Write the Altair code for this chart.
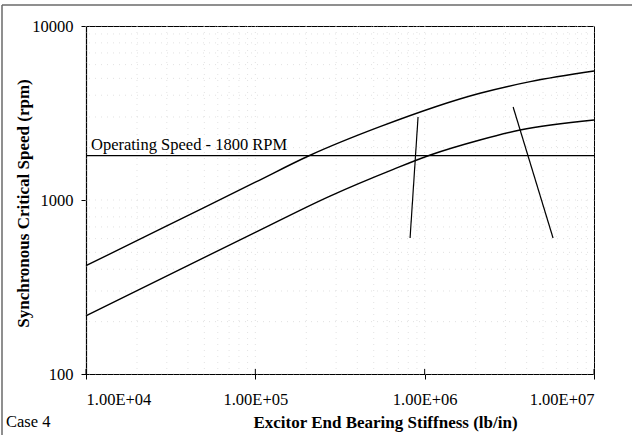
import altair as alt
import pandas as pd

# Synchronous critical speed vs. excitor end bearing stiffness (log-log)
upper_k = [1e4, 3e4, 1e5, 2.06e5, 5.45e5, 2.12e6, 4.2e6, 1e7]
upper_rpm = [419, 710, 1265, 1790, 2638, 4105, 4786, 5510]

lower_k = [1e4, 1e5, 2.76e5, 6.53e5, 1.08e6, 2.12e6, 3.66e6, 1e7]
lower_rpm = [216, 652, 1054, 1501, 1814, 2213, 2525, 2884]

operating_speed = 1800

# leader lines (start/end in data units)
leader_k1 = [9.14e5, 3.33e6]
leader_rpm1 = [3000, 3424]
leader_k2 = [8.2e5, 5.73e6]
leader_rpm2 = [605, 605]

x_major = [1e4, 1e5, 1e6, 1e7]
y_major = [100, 1000, 10000]
x_grid = [m * 10 ** e for e in (4, 5, 6) for m in range(1, 10)] + [1e7]
y_grid = [m * 10 ** e for e in (2, 3) for m in range(1, 10)] + [1e4]

FONT = "Liberation Serif"
W, H = 508, 348

curves = pd.DataFrame(
    {"k": upper_k + lower_k,
     "rpm": upper_rpm + lower_rpm,
     "curve": ["upper"] * len(upper_k) + ["lower"] * len(lower_k)}
)
leaders = pd.DataFrame({"k": leader_k1, "rpm": leader_rpm1,
                        "k2": leader_k2, "rpm2": leader_rpm2})

xs = alt.Scale(type="log", domain=[1e4, 1e7], nice=False)
ys = alt.Scale(type="log", domain=[100, 10000], nice=False)

x_axis = alt.Axis(
    values=x_major,
    labelExpr="'1.00E+0' + round(log(datum.value) / LN10)",
    title="Excitor End Bearing Stiffness (lb/in)",
    titleX=299, titleY=48, titleAlign="center", titleBaseline="middle",
    titleFontSize=17,
    grid=False, tickSize=5, labelPadding=12,
)
y_axis = alt.Axis(
    values=y_major, format="d",
    title="Synchronous Critical Speed (rpm)",
    titleX=-63, titleY=177, titleAlign="center", titleBaseline="middle",
    titleAngle=-90, titleFontSize=17,
    grid=False, tickSize=5, labelPadding=8,
)


def X(field):
    return alt.X(field, scale=xs, axis=x_axis)


def Y(field):
    return alt.Y(field, scale=ys, axis=y_axis)


grid_x = alt.Chart(pd.DataFrame({"k": x_grid})).mark_rule(
    color="#d6d6d6", strokeWidth=0.7, strokeDash=[1, 5]
).encode(x=X("k:Q"))

grid_y = alt.Chart(pd.DataFrame({"rpm": y_grid})).mark_rule(
    color="#d6d6d6", strokeWidth=0.7, strokeDash=[1, 5]
).encode(y=Y("rpm:Q"))

lines = alt.Chart(curves).mark_line(
    color="black", strokeWidth=1.4, interpolate="monotone"
).encode(x=X("k:Q"), y=Y("rpm:Q"), detail="curve:N")

op_line = alt.Chart(pd.DataFrame({"rpm": [operating_speed]})).mark_rule(
    color="black", strokeWidth=1.2
).encode(y=Y("rpm:Q"))

op_label = alt.Chart(
    pd.DataFrame({"k": [1.07e4], "rpm": [operating_speed],
                  "t": ["Operating Speed - 1800 RPM"]})
).mark_text(align="left", baseline="bottom", dy=-3, font=FONT, fontSize=16.5,
            color="black").encode(x=X("k:Q"), y=Y("rpm:Q"), text="t:N")

leader_marks = alt.Chart(leaders).mark_rule(color="black", strokeWidth=1.2).encode(
    x=X("k:Q"), y=Y("rpm:Q"), x2="k2:Q", y2="rpm2:Q",
)

# inner halves of the crossing x ticks
inner_ticks = alt.Chart(pd.DataFrame({"k": x_major})).mark_rule(
    color="black", strokeWidth=1
).encode(x=X("k:Q"), y=alt.value(H - 5), y2=alt.value(H))

one = pd.DataFrame({"a": [0]})
frame_top = alt.Chart(one).mark_rule(color="#6a6a6a", strokeWidth=1.5).encode(
    x=alt.value(-84), x2=alt.value(546), y=alt.value(-21)
)
frame_left = alt.Chart(one).mark_rule(color="#6a6a6a", strokeWidth=1.5).encode(
    x=alt.value(-84), y=alt.value(-21), y2=alt.value(409)
)
case_label = alt.Chart(pd.DataFrame({"t": ["Case 4"]})).mark_text(
    align="left", baseline="middle", font=FONT, fontSize=16.5, color="black"
).encode(x=alt.value(-80), y=alt.value(396), text="t:N")

chart = alt.layer(
    grid_x, grid_y, lines, op_line, op_label, leader_marks, inner_ticks,
    frame_top, frame_left, case_label,
).properties(
    width=W, height=H,
    background="white",
    autosize=alt.AutoSizeParams(type="none"),
    padding={"left": 86, "top": 26, "right": 38, "bottom": 61},
).configure_view(
    stroke="black", strokeWidth=1
).configure_axis(
    domainColor="black", domainWidth=1.2, tickColor="black", tickWidth=1,
    labelFont=FONT, labelFontSize=16.5, labelColor="black",
    titleFont=FONT, titleFontWeight="bold", titleColor="black",
)

chart.save("out.html", embed_options={"renderer": "svg", "actions": False})
